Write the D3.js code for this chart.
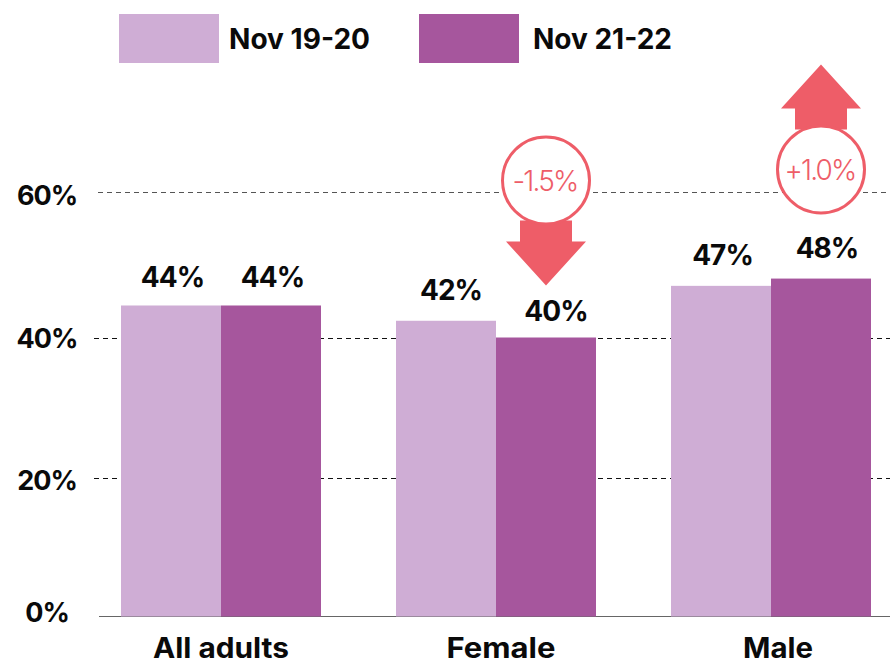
<!DOCTYPE html>
<meta charset="utf-8">

<style>
body { margin: 0; background: #fff; }
svg { display: block; }
text { font-family: Inter, sans-serif; fill: #0a0a0a; font-weight: 700; }
</style>

<svg class="chart"></svg>

<script src="https://d3js.org/d3.v7.min.js"></script>
<script>

  var categories = ["All adults", "Female", "Male"];
  var seriesNames = ["Nov 19-20", "Nov 21-22"];
  var nov1920 = [44.4, 42.3, 47.1];
  var nov2122 = [44.4, 40.0, 48.1];
  var barLabels1920 = ["44%", "42%", "47%"];
  var barLabels2122 = ["44%", "40%", "48%"];
  var yTicks = [0, 20, 40, 60];
  var changeCategories = ["Female", "Male"];
  var changeLabels = ["-1.5%", "+1.0%"];
  var changeDirections = [-1, 1];

  var width = 890;
  var height = 660;

  var colors = ["#cfadd5", "#a6569d"];
  var red = "#ee5d68";

  // the source's gridlines are not quite evenly spaced, so the scale has one stop per tick
  var yScale = d3.scaleLinear()
      .domain(yTicks)
      .range([616.5, 478, 337.5, 192]);

  var xScale = d3.scalePoint()
      .domain(categories)
      .range([221, 771]);

  var barWidth = 100;

  var chart = d3.select(".chart")
      .attr("width", width)
      .attr("height", height);

  // gridlines
  chart.append("g")
      .attr("class", "grid")
    .selectAll("line")
      .data(yTicks.slice(1))
    .enter().append("line")
      .attr("x1", function(d) { return d === 60 ? 98 : 94; })
      .attr("x2", width)
      .attr("y1", function(d) { return Math.round(yScale(d)) + 0.5; })
      .attr("y2", function(d) { return Math.round(yScale(d)) + 0.5; })
      .attr("stroke", function(d) { return d === 60 ? "#555" : "#111"; })
      .attr("stroke-width", 1)
      .attr("stroke-dasharray", "5,4");

  chart.append("line")
      .attr("x1", 99)
      .attr("x2", width)
      .attr("y1", 616.5)
      .attr("y2", 616.5)
      .attr("stroke", "#666");

  // y labels
  var yLabelNudge = { 0: -4, 20: 2, 40: 1, 60: 3 };

  chart.append("g")
      .attr("class", "y axis")
    .selectAll("text")
      .data(yTicks)
    .enter().append("text")
      .attr("x", 47)
      .attr("y", function(d) { return yScale(d) + yLabelNudge[d]; })
      .attr("dy", "0.36em")
      .attr("text-anchor", "middle")
      .style("font-size", "27px")
      .style("letter-spacing", "-1px")
      .text(function(d) { return d + "%"; });

  // bars
  [nov1920, nov2122].forEach(function(values, s) {
    chart.append("g")
        .attr("class", "bars")
      .selectAll("rect")
        .data(values)
      .enter().append("rect")
        .attr("x", function(d, i) { return xScale(categories[i]) - barWidth + s * barWidth; })
        .attr("y", function(d) { return yScale(d); })
        .attr("width", barWidth)
        .attr("height", function(d) { return yScale(0) - yScale(d); })
        .attr("fill", colors[s]);
  });

  // bar labels, offsets by hand as in the source
  var labelDx = [[1.5, 5, 1.5], [1.5, 10, 6]];
  var labelDy = [[29, 31, 31], [29, 27, 31]];

  [barLabels1920, barLabels2122].forEach(function(labels, s) {
    var values = s === 0 ? nov1920 : nov2122;
    chart.append("g")
        .attr("class", "bar labels")
      .selectAll("text")
        .data(labels)
      .enter().append("text")
        .attr("x", function(d, i) { return xScale(categories[i]) - barWidth / 2 + s * barWidth + labelDx[s][i]; })
        .attr("y", function(d, i) { return yScale(values[i]) - labelDy[s][i]; })
        .attr("dy", "0.36em")
        .attr("text-anchor", "middle")
        .style("font-size", "28px")
        .style("letter-spacing", "-1px")
        .text(function(d) { return d; });
  });

  // category labels, stretched to the wider widths of the source's font
  var categoryDx = [0, 5, 7];
  var categoryWidths = [136, 109, 70];

  chart.append("g")
      .attr("class", "x axis")
    .selectAll("text")
      .data(categories)
    .enter().append("text")
      .attr("x", function(d, i) { return xScale(d) + categoryDx[i]; })
      .attr("y", 658)
      .attr("text-anchor", "middle")
      .attr("textLength", function(d, i) { return categoryWidths[i]; })
      .attr("lengthAdjust", "spacingAndGlyphs")
      .style("font-size", "28px")
      .text(function(d) { return d; });

  // change arrows and circles
  var badgeY = [180.5, 169.5];
  var badgeX = [50, 50];

  changeCategories.forEach(function(category, i) {
    var cx = xScale(category) + badgeX[i];
    var cy = badgeY[i];
    var dir = changeDirections[i];
    var g = chart.append("g").attr("class", "change");

    // arrow is drawn pointing away from the circle
    var s0 = cy - dir * 40;
    var s1 = cy - dir * 61;
    var tip = cy - dir * 105;
    var arrow = d3.path();
    arrow.moveTo(cx - 26, s0);
    arrow.lineTo(cx - 26, s1);
    arrow.lineTo(cx - 40, s1);
    arrow.lineTo(cx, tip);
    arrow.lineTo(cx + 40, s1);
    arrow.lineTo(cx + 26, s1);
    arrow.lineTo(cx + 26, s0);
    arrow.closePath();

    g.append("path")
        .attr("d", arrow.toString())
        .attr("fill", red);

    g.append("circle")
        .attr("cx", cx)
        .attr("cy", cy)
        .attr("r", 43.5)
        .attr("fill", "#fff")
        .attr("stroke", red)
        .attr("stroke-width", 3);

    g.append("text")
        .attr("x", cx - 1)
        .attr("y", cy)
        .attr("dy", "0.36em")
        .attr("text-anchor", "middle")
        .style("font-size", "28px")
        .style("font-weight", 300)
        .style("letter-spacing", "-1.8px")
        .style("fill", red)
        .text(changeLabels[i]);
  });

  // legend
  var legendX = d3.scalePoint()
      .domain(seriesNames)
      .range([119, 419]);
  var legendTextDx = [110, 114];
  var legendWidths = [141, 139];

  var legend = chart.append("g")
      .attr("class", "legend")
    .selectAll("g")
      .data(seriesNames)
    .enter().append("g");

  legend.append("rect")
      .attr("x", function(d) { return legendX(d); })
      .attr("y", 14)
      .attr("width", 100)
      .attr("height", 49)
      .attr("fill", function(d, i) { return colors[i]; });

  legend.append("text")
      .attr("x", function(d, i) { return legendX(d) + legendTextDx[i]; })
      .attr("y", 39)
      .attr("dy", "0.36em")
      .attr("textLength", function(d, i) { return legendWidths[i]; })
      .attr("lengthAdjust", "spacingAndGlyphs")
      .style("font-size", "28px")
      .text(function(d) { return d; });

</script>
